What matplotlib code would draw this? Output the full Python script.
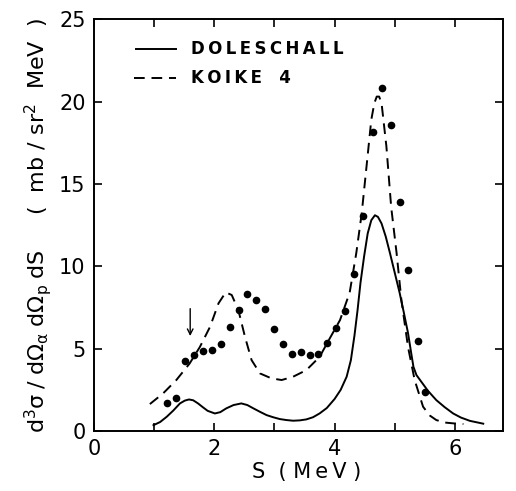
import numpy as np
import matplotlib
matplotlib.use('Agg')
import matplotlib.pyplot as plt

# measured points
s_data = [1.22, 1.37, 1.52, 1.66, 1.82, 1.97, 2.11, 2.26, 2.41, 2.55, 2.70, 2.85,
          3.00, 3.15, 3.30, 3.44, 3.59, 3.73, 3.88, 4.03, 4.18, 4.33, 4.47, 4.63,
          4.78, 4.93, 5.08, 5.22, 5.38, 5.51]
y_data = [1.68, 2.02, 4.25, 4.62, 4.84, 4.92, 5.26, 6.34, 7.35, 8.30, 7.96, 7.41,
          6.17, 5.28, 4.68, 4.80, 4.60, 4.68, 5.36, 6.23, 7.31, 9.55, 13.06, 18.14,
          20.81, 18.58, 13.91, 9.78, 5.49, 2.37]

# Doleschall calculation (solid)
s_dol = [0.99, 1.10, 1.21, 1.32, 1.43, 1.51, 1.58, 1.65, 1.73, 1.81, 1.89, 2.01,
         2.10, 2.20, 2.32, 2.45, 2.55, 2.65, 2.76, 2.87, 2.98, 3.09, 3.20, 3.31,
         3.42, 3.53, 3.64, 3.75, 3.87, 4.00, 4.10, 4.20, 4.27, 4.33, 4.38, 4.43,
         4.49, 4.55, 4.61, 4.67, 4.72, 4.78, 4.85, 4.92, 5.00, 5.08, 5.15, 5.22,
         5.27, 5.31, 5.36, 5.42, 5.55, 5.69, 5.83, 5.97, 6.10, 6.25, 6.47]
y_dol = [0.36, 0.55, 0.87, 1.25, 1.68, 1.85, 1.92, 1.87, 1.68, 1.45, 1.23, 1.07,
         1.15, 1.38, 1.58, 1.68, 1.58, 1.38, 1.17, 0.97, 0.84, 0.73, 0.67, 0.63,
         0.65, 0.71, 0.84, 1.07, 1.40, 1.95, 2.50, 3.30, 4.30, 5.80, 7.30, 9.00,
         10.6, 12.0, 12.8, 13.1, 13.0, 12.6, 11.8, 10.8, 9.6, 8.4, 7.2, 5.95,
         4.8, 3.9, 3.4, 3.1, 2.45, 1.88, 1.45, 1.07, 0.82, 0.62, 0.45]

# Koike 4 calculation (dashed)
s_koi = [0.93, 1.15, 1.37, 1.59, 1.76, 1.93, 2.07, 2.19, 2.29, 2.40, 2.51, 2.62,
         2.76, 2.95, 3.12, 3.31, 3.53, 3.75, 3.92, 4.09, 4.25, 4.36, 4.45, 4.53,
         4.61, 4.66, 4.70, 4.74, 4.78, 4.86, 4.94, 5.03, 5.11, 5.22, 5.33, 5.47,
         5.58, 5.69, 5.83, 5.97, 6.14]
y_koi = [1.64, 2.29, 3.10, 4.10, 5.10, 6.33, 7.75, 8.42, 8.26, 7.35, 5.73, 4.31,
         3.50, 3.20, 3.10, 3.30, 3.70, 4.50, 5.63, 6.74, 8.40, 10.8, 13.2, 16.05,
         18.9, 19.9, 20.3, 20.3, 19.9, 17.3, 13.6, 10.8, 7.95, 5.10, 3.10, 1.48,
         0.95, 0.67, 0.52, 0.47, 0.43]

xticks = [0, 2, 4, 6]
yticks = [0, 5, 10, 15, 20, 25]

plt.rcParams['font.family'] = ['DejaVu Sans']
plt.rcParams['mathtext.fontset'] = 'dejavusans'

fig = plt.figure(figsize=(5.16, 4.91), dpi=100)
ax = fig.add_axes([0.182, 0.122, 0.793, 0.839])

dash = (0, (5.5, 3.5))
ax.plot(s_dol, y_dol, color='black', lw=1.4)
ax.plot(s_koi, y_koi, color='black', lw=1.4, ls=dash)
ax.plot(s_data, y_data, 'o', color='black', ms=4.5)

# arrow marking the point at S = 1.6 MeV
ax.annotate('', xy=(1.6, 5.6), xytext=(1.6, 7.6),
            arrowprops=dict(arrowstyle='->', color='black', lw=1.0))

# legend drawn by hand like the original figure
sp = '\u2009'
ax.plot([0.70, 1.37], [23.2, 23.2], color='black', lw=1.4)
ax.plot([0.66, 1.37], [21.4, 21.4], color='black', lw=1.4, ls=dash)
ax.text(1.62, 23.2, sp.join('DOLESCHALL'), fontsize=12, fontweight='bold',
        va='center', ha='left')
ax.text(1.62, 21.4, sp.join('KOIKE') + '   4', fontsize=12, fontweight='bold',
        va='center', ha='left')

ax.set_xlim(0, 6.8)
ax.set_ylim(0, 25)
ax.set_xticks(xticks)
ax.set_xticks([1, 3, 5], minor=True)
ax.set_yticks(yticks)
ax.tick_params(which='both', direction='in', top=True, right=True,
               labelsize=15, length=6, width=1.2, pad=6)
for s in ax.spines.values():
    s.set_linewidth(1.4)

ax.set_xlabel('S  ( ' + sp.join('MeV') + ' )', fontsize=15, labelpad=4)
ax.xaxis.set_label_coords(0.52, -0.075)
ax.set_ylabel(r'$\mathrm{d^3\sigma\;/\;d\Omega_\alpha\;d\Omega_p\;dS}$'
              r'     (  mb / sr$^2$  MeV  )', fontsize=16, labelpad=4)

fig.savefig('out.png', dpi=100)
